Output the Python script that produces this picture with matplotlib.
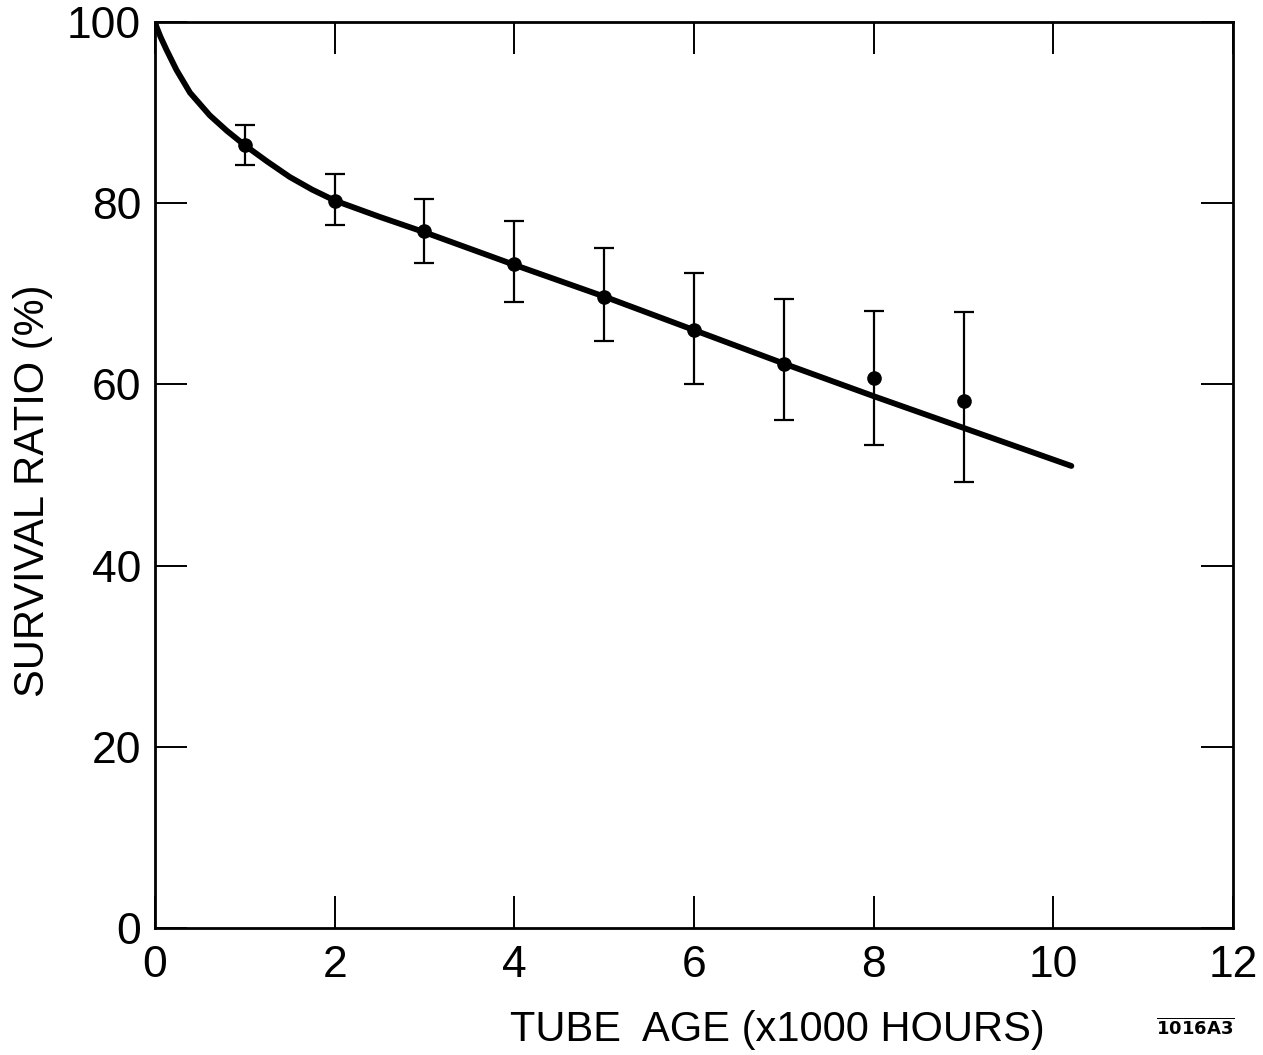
import numpy as np
import matplotlib
matplotlib.use("Agg")
import matplotlib.pyplot as plt

plt.rcParams['font.family'] = ['Liberation Sans', 'DejaVu Sans']

# measured points (x1000 hours, survival %)
age = [1, 2, 3, 4, 5, 6, 7, 8, 9]
surv = [86.4, 80.3, 76.9, 73.3, 69.7, 66.0, 62.3, 60.7, 58.2]
err_hi = [88.6, 83.2, 80.5, 78.0, 75.1, 72.3, 69.4, 68.1, 68.0]
err_lo = [84.2, 77.6, 73.4, 69.1, 64.8, 60.0, 56.1, 53.3, 49.2]

# fitted curve
fit_x = [0, 0.02, 0.06, 0.13, 0.24, 0.39, 0.61, 0.8, 1.0, 1.25, 1.5, 1.75, 2,
         2.5, 3, 4, 5, 6, 7, 8, 9, 10.2]
fit_y = [100, 99.4, 98.4, 96.9, 94.7, 92.2, 89.7, 88.0, 86.4, 84.6, 82.9, 81.5, 80.3,
         78.5, 76.8, 73.2, 69.7, 66.0, 62.3, 58.7, 55.2, 51.0]

fig = plt.figure(figsize=(12.63, 10.55), dpi=100)
ax = fig.add_axes([0.1227, 0.1204, 0.8536, 0.8587])

ax.plot(fit_x, fit_y, color='black', lw=4.2, solid_capstyle='round',
        solid_joinstyle='round', zorder=3)

surv = np.array(surv)
yerr = [surv - np.array(err_lo), np.array(err_hi) - surv]
ax.errorbar(age, surv, yerr=yerr, fmt='o', color='black', ms=9.5,
            elinewidth=1.6, capsize=7, capthick=1.6, zorder=4)

ax.set_xlim(0, 12)
ax.set_ylim(0, 100)
ax.set_xticks(np.arange(0, 13, 2))
ax.set_yticks(np.arange(0, 101, 20))

for s in ax.spines.values():
    s.set_linewidth(2)

ax.tick_params(direction='in', length=23, width=1.4, top=True, right=True,
               labelsize=32)
ax.tick_params(axis='x', pad=12)
ax.tick_params(axis='y', pad=10)

ax.set_xlabel("TUBE  AGE (x1000 HOURS)", fontsize=30)
ax.xaxis.set_label_coords(0.577, -0.09)
ax.set_ylabel("SURVIVAL RATIO (%)", fontsize=30)
ax.yaxis.set_label_coords(-0.095, 0.483)

fig.text(0.946, 0.026, r"$\overline{\mathbf{1016A3}}$", fontsize=13,
         ha='center', va='center')

fig.savefig("out.png", dpi=100)
